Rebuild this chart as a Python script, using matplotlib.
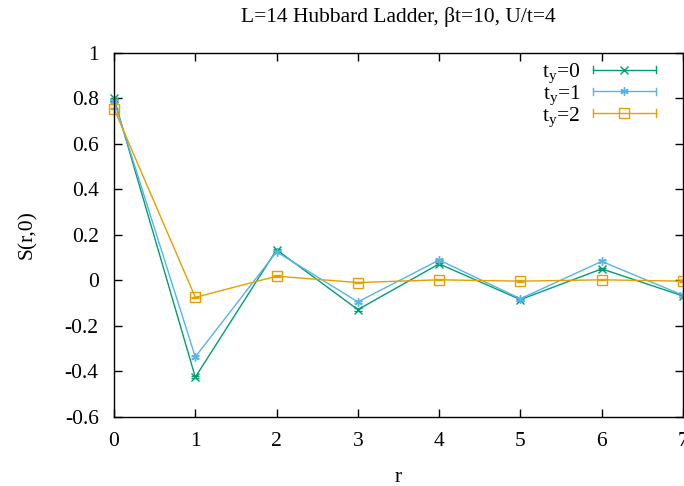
import matplotlib.pyplot as plt
from matplotlib.legend_handler import HandlerBase
from matplotlib.lines import Line2D
from matplotlib.ticker import FuncFormatter

plt.rcParams["font.family"] = "Liberation Serif"
plt.rcParams["mathtext.fontset"] = "custom"
plt.rcParams["mathtext.rm"] = "Liberation Serif"
plt.rcParams["mathtext.it"] = "Liberation Serif"
plt.rcParams["font.size"] = 15.5
plt.rcParams["xtick.direction"] = "in"
plt.rcParams["ytick.direction"] = "in"
plt.rcParams["xtick.top"] = plt.rcParams["ytick.right"] = True

r = [0, 1, 2, 3, 4, 5, 6, 7]
s_ty0 = [0.80, -0.425, 0.135, -0.128, 0.073, -0.084, 0.051, -0.068]
s_ty1 = [0.79, -0.336, 0.126, -0.094, 0.090, -0.080, 0.084, -0.065]
s_ty2 = [0.755, -0.074, 0.019, -0.009, 0.003, -0.003, 0.003, -0.003]
err_ty0 = [0.004, 0.005, 0.004, 0.005, 0.004, 0.004, 0.004, 0.004]
err_ty1 = [0.004, 0.005, 0.004, 0.004, 0.004, 0.004, 0.004, 0.004]
err_ty2 = [0.003, 0.003, 0.003, 0.003, 0.003, 0.003, 0.003, 0.003]
labels = ["t$_\\mathrm{y}$=0", "t$_\\mathrm{y}$=1", "t$_\\mathrm{y}$=2"]
colors = ["#009e73", "#56b4e9", "#e69f00"]
markers = ["x", (6, 2, 0), "s"]


class ErrorLineHandler(HandlerBase):
    # gnuplot-style key sample: line with end caps and a marker in the middle
    def create_artists(self, legend, orig, xd, yd, width, height, fontsize, trans):
        c = orig.get_color()
        y = height / 2 - yd
        x0, x1 = -xd, width - xd
        cap = 0.25 * height
        arts = [
            Line2D([x0, x1], [y, y], color=c, lw=1),
            Line2D([x0, x0], [y - cap, y + cap], color=c, lw=1),
            Line2D([x1, x1], [y - cap, y + cap], color=c, lw=1),
            Line2D([(x0 + x1) / 2], [y], color=c, marker=orig.get_marker(),
                   ms=orig.get_markersize(), mfc="none", mew=1, ls="none"),
        ]
        for a in arts:
            a.set_transform(trans)
        return arts


fig = plt.figure(figsize=(6.84, 4.86), dpi=100)
ax = fig.add_axes([0.1667, 0.142, 0.8318, 0.749])

handles = []
for ys, es, lab, col, mk in zip([s_ty0, s_ty1, s_ty2], [err_ty0, err_ty1, err_ty2],
                                labels, colors, markers):
    ms = 6 if mk != "s" else 6.5
    ax.errorbar(r, ys, yerr=es, color=col, lw=1, elinewidth=1, capsize=3,
                marker=mk, ms=ms, mfc="none", mew=1, clip_on=False)
    handles.append(Line2D([], [], color=col, marker=mk, ms=ms, label=lab))

ax.set_xlim(0, 7)
ax.set_ylim(-0.6, 1)
ax.set_xticks(range(0, 8))
ax.set_yticks([-0.6, -0.4, -0.2, 0, 0.2, 0.4, 0.6, 0.8, 1])
ax.yaxis.set_major_formatter(FuncFormatter(lambda v, p: "%g" % round(v, 2)))
ax.tick_params(length=6, width=1)
ax.tick_params(axis="y", pad=11)
ax.tick_params(axis="x", pad=11)
for sp in ax.spines.values():
    sp.set_linewidth(1)

ax.set_xlabel("r", labelpad=12)
ax.set_ylabel("S(r,0)", labelpad=20)
ax.set_title("L=14 Hubbard Ladder, βt=10, U/t=4", fontsize=15.5, pad=22)

ax.legend(handles=handles, loc="upper right", frameon=False, markerfirst=False,
          handler_map={Line2D: ErrorLineHandler()}, handlelength=2.9,
          handletextpad=0.6, labelspacing=-0.08, borderaxespad=0.0,
          bbox_to_anchor=(0.967, 1.0))

fig.savefig("out.png", dpi=100)
